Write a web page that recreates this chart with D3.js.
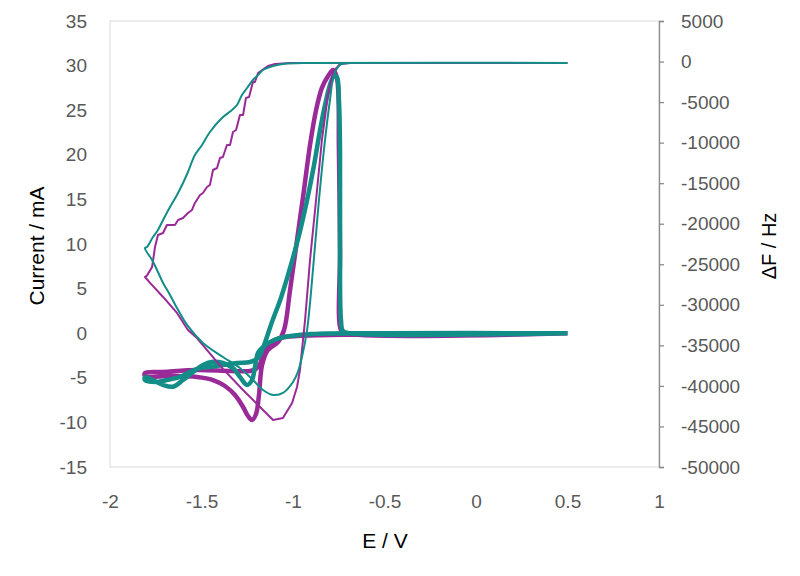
<!DOCTYPE html>
<html>
<head>
<meta charset="utf-8">
<script src="https://cdn.jsdelivr.net/npm/d3@7"></script>
<style>
    body { margin: 0; background: #fff; }
    .tick text { font-family: "Liberation Sans", Arial, sans-serif; font-size: 19px; fill: #595959; }
</style>
</head>
<body>
<div class="B"></div>
<script>
// tick values
var eTicks = [-2, -1.5, -1, -0.5, 0, 0.5, 1],
    iTicks = [-15, -10, -5, 0, 5, 10, 15, 20, 25, 30, 35],
    fTicks = [-50000, -45000, -40000, -35000, -30000, -25000, -20000, -15000, -10000, -5000, 0, 5000];

// current, cycle A (purple, thick)
var eCurA = [0.5, -0.5, -1.044, -1.098, -1.137, -1.164, -1.180, -1.202, -1.235, -1.344, -1.525, -1.710, -1.809,
    -1.809, -1.672, -1.525, -1.437, -1.372, -1.317, -1.273, -1.246, -1.224, -1.202, -1.186, -1.169, -1.137, -1.082,
    -1.049, -1.016, -0.978, -0.940, -0.907, -0.874, -0.842, -0.809, -0.781, -0.760, -0.749, -0.743, -0.738, -0.716, 0.5];
var iCurA = [0, -0.1, -0.43, -0.76, -1.32, -2.44, -3.45, -4.0, -4.24, -4.24, -4.13, -4.35, -4.46,
    -4.8, -4.8, -4.91, -5.25, -5.92, -6.93, -8.27, -9.28, -9.73, -9.06, -6.93, -3.57, -1.88, -0.99,
    0.36, 4.84, 10.45, 16.05, 21.1, 25.0, 27.5, 28.8, 29.5, 28.6, 20.5, 9.3, 0.36, 0, 0];

// current, cycle B (teal, thick)
var eCurB = [0.5, -0.5, -0.9, -1.071, -1.126, -1.164, -1.191, -1.208, -1.224, -1.251, -1.290, -1.328, -1.383,
    -1.437, -1.492, -1.546, -1.601, -1.656, -1.710, -1.765, -1.809,
    -1.809, -1.743, -1.689, -1.617, -1.563, -1.508, -1.454, -1.383, -1.306, -1.235, -1.191, -1.164,
    -1.115, -1.066, -1.016, -0.967, -0.923, -0.885, -0.852, -0.825, -0.798, -0.776, -0.760, -0.749, -0.743, -0.743,
    -0.738, -0.727, -0.689, 0.5];
var iCurB = [0, 0, -0.1, -0.54, -1.0, -1.55, -2.2, -3.8, -5.25, -5.8, -4.9, -3.9, -3.34,
    -3.2, -3.56, -4.35, -5.25, -6.0, -5.8, -5.25, -4.95,
    -5.25, -5.47, -5.25, -4.9, -4.35, -3.9, -3.79, -3.57, -3.34, -3.23, -2.78, -1.66,
    1.26, 3.95, 7.31, 11.0, 14.93, 18.86, 22.78, 25.58, 27.83, 28.83, 28.7, 26.1, 20.5, 9.3,
    1.5, 0.25, 0, 0];

// frequency shift, cycle A (purple, thin)
var eDfA = [0.5, -0.689, -1.016, -1.098, -1.137, -1.153, -1.191, -1.208, -1.219, -1.240, -1.257, -1.273, -1.290,
    -1.311, -1.328, -1.344, -1.361, -1.383, -1.399, -1.415, -1.437, -1.454, -1.470, -1.492, -1.508, -1.536,
    -1.552, -1.574, -1.601, -1.628, -1.645, -1.689, -1.710, -1.738, -1.754, -1.770, -1.798, -1.809,
    -1.781, -1.710, -1.634, -1.574, -1.525, -1.383, -1.273, -1.180, -1.109, -1.055, -1.005, -0.978,
    -0.962, -0.934, -0.907, -0.874, -0.842, -0.809, -0.781, -0.743, -0.689];
var dfA = [-180, -180, -180, -300, -550, -795, -1412, -2522, -2522, -4371, -4494, -6590, -6590,
    -8440, -8687, -10290, -10290, -11770, -11893, -13126, -13373, -15222, -15469, -16209, -16455, -17442,
    -18305, -18675, -19292, -19538, -20155, -20155, -21141, -21388, -22868, -25334, -26400, -26567,
    -27300, -29030, -31000, -33100, -34100, -37900, -40500, -42596, -44199, -43953, -42103, -40130,
    -38033, -31867, -24469, -17071, -9673, -4124, -1288, -302, -180];

// frequency shift, cycle B (teal, thin)
var eDfB = [0.5, -0.907, -1.055, -1.109, -1.142, -1.164, -1.191, -1.219, -1.251, -1.279, -1.306, -1.333, -1.388,
    -1.454, -1.497, -1.536, -1.574, -1.601, -1.634, -1.672, -1.710, -1.738, -1.765, -1.798, -1.809,
    -1.770, -1.743, -1.710, -1.672, -1.634, -1.579, -1.492, -1.383, -1.290, -1.219, -1.164, -1.109, -1.055,
    -1.000, -0.973, -0.951, -0.923, -0.891, -0.863, -0.831, -0.798, -0.776, -0.743, -0.689];
var dfB = [-179, -179, -302, -549, -795, -1042, -1658, -2275, -3261, -4124, -5358, -5974, -6961,
    -8687, -10290, -11523, -13620, -14976, -16456, -17935, -19538, -20772, -21635, -22868, -23000,
    -24469, -25703, -27305, -28785, -30388, -32484, -34703, -36430, -37786, -39266, -40499, -41116, -40869,
    -39513, -38280, -36430, -33101, -25703, -18305, -10907, -4741, -1658, -425, -179];

var purple = '#9a2a98', teal = '#138d87';

var width = 800, height = 576,
    plotL = 110, plotR = 659, plotT = 21, plotB = 467;

var svg = d3.select('.B').append('svg')
    .attr('width', width)
    .attr('height', height);

var x = d3.scaleLinear().domain([-2, 1]).range([plotL, plotR]);
var yI = d3.scaleLinear().domain([-15, 35]).range([plotB, plotT]);
var yF = d3.scaleLinear().domain([-50000, 5000]).range([plotB, plotT]);

// plain labels: hyphen minus, no thousands separator
var plain = function (d) { return String(d); };

// plot frame
svg.append('rect')
    .attr('x', plotL).attr('y', plotT)
    .attr('width', plotR - plotL).attr('height', plotB - plotT)
    .style('fill', 'none').style('stroke', '#d9d9d9').style('stroke-width', 1);

// left axis
var gl = svg.append('g').attr('transform', 'translate(' + plotL + ',0)')
    .call(d3.axisLeft(yI).tickValues(iTicks).tickSize(0).tickPadding(23).tickFormat(plain));
gl.select('.domain').remove();

// bottom axis
var gb = svg.append('g').attr('transform', 'translate(0,' + plotB + ')')
    .call(d3.axisBottom(x).tickValues(eTicks).tickSize(0).tickPadding(28).tickFormat(plain));
gb.select('.domain').remove();

// right axis
var gr = svg.append('g').attr('transform', 'translate(' + plotR + ',0)')
    .call(d3.axisRight(yF).tickValues(fTicks).tickSize(5).tickPadding(17).tickFormat(plain));
gr.select('.domain').style('stroke', '#8c8c8c').style('stroke-width', 1.3);
gr.selectAll('.tick line').style('stroke', '#8c8c8c').style('stroke-width', 1.3);

// titles
svg.append('text')
    .text('Current / mA')
    .style('font-family', '"Liberation Sans", Arial, sans-serif')
    .style('font-size', '21px').style('fill', '#000')
    .attr('text-anchor', 'middle')
    .attr('transform', 'translate(44,246) rotate(-90)');

svg.append('text')
    .text('ΔF / Hz')
    .style('font-family', '"Liberation Sans", Arial, sans-serif')
    .style('font-size', '20px').style('fill', '#000')
    .attr('text-anchor', 'middle')
    .attr('transform', 'translate(776,246) rotate(-90)');

svg.append('text')
    .text('E / V')
    .style('font-family', '"Liberation Sans", Arial, sans-serif')
    .style('font-size', '21px').style('fill', '#000')
    .attr('text-anchor', 'middle')
    .attr('x', 385).attr('y', 548);

// curves
function pts(es, vs) {
    return es.map(function (e, i) { return [e, vs[i]]; });
}

var lineI = d3.line()
    .x(function (d) { return x(d[0]); })
    .y(function (d) { return yI(d[1]); })
    .curve(d3.curveCatmullRom.alpha(0.5));

var lineF = d3.line()
    .x(function (d) { return x(d[0]); })
    .y(function (d) { return yF(d[1]); });

var series = [
    {d: lineI(pts(eCurA, iCurA)), c: purple, w: 4.5},
    {d: lineI(pts(eCurB, iCurB)), c: teal, w: 4.5},
    {d: lineF(pts(eDfA, dfA)), c: purple, w: 2},
    {d: lineF.curve(d3.curveCatmullRom.alpha(0.5))(pts(eDfB, dfB)), c: teal, w: 2}
];

svg.append('g').selectAll('.cv')
    .data(series)
    .enter()
    .append('path')
    .attr('class', 'cv')
    .attr('d', function (d) { return d.d; })
    .style('fill', 'none')
    .style('stroke', function (d) { return d.c; })
    .style('stroke-width', function (d) { return d.w; })
    .style('stroke-linejoin', 'round');
</script>
</body>
</html>
